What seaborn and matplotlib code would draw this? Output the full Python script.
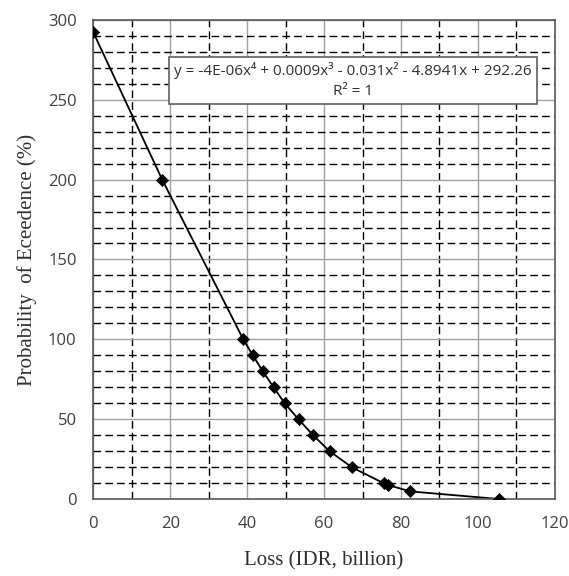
import numpy as np
import pandas as pd
import matplotlib
matplotlib.use("Agg")
import matplotlib.pyplot as plt
import seaborn as sns
from matplotlib.ticker import MultipleLocator

# =============================
# DATA
# =============================
loss = [0.0, 17.9, 39.0, 41.5, 44.1, 46.9, 49.8, 53.4, 57.2, 61.5, 67.3, 75.6, 76.6, 82.4, 105.6]
prob = [292, 200, 100, 90, 80, 70, 60, 50, 40, 30, 20, 10, 9, 5, 0.2]

eq_text = "y = -4E-06x\u2074 + 0.0009x\u00b3 - 0.031x\u00b2 - 4.8941x + 292.26\nR\u00b2 = 1"

df = pd.DataFrame({"loss": loss, "prob": prob})

# =============================
# PLOT
# =============================
sns.set_style("white")
fig = plt.figure(figsize=(5.69, 5.76), dpi=100)
ax = fig.add_axes([0.164, 0.133, 0.811, 0.833])

sns.lineplot(data=df, x="loss", y="prob", color="black", linewidth=1.3, ax=ax,
             estimator=None, sort=False)
sns.scatterplot(data=df, x="loss", y="prob", marker="D", s=38, color="black",
                edgecolor="black", ax=ax, zorder=5)

ax.set_xlim(0, 120)
ax.set_ylim(0, 300)
ax.xaxis.set_major_locator(MultipleLocator(20))
ax.yaxis.set_major_locator(MultipleLocator(50))
ax.xaxis.set_minor_locator(MultipleLocator(10))
ax.yaxis.set_minor_locator(MultipleLocator(10))

ax.grid(which="major", color="#a0a0a0", linestyle="-", linewidth=1.0)
ax.grid(which="minor", color="black", linestyle=(0, (5.5, 3)), linewidth=1.0)
ax.set_axisbelow(True)
ax.tick_params(which="both", length=0)
ax.tick_params(axis="x", labelsize=12, labelcolor="#404040", pad=12)
ax.tick_params(axis="y", labelsize=12, labelcolor="#404040", pad=12)
for lab in ax.get_xticklabels() + ax.get_yticklabels():
    lab.set_family("Open Sans")

for s in ax.spines.values():
    s.set_color("#595959")
    s.set_linewidth(1.2)

ax.set_xlabel("Loss (IDR, billion)", family="Liberation Serif", fontsize=15,
              color="#303030", labelpad=14)
ax.set_ylabel("Probability  of Eceedence (%)", family="Liberation Serif", fontsize=15,
              color="#303030", labelpad=8)

ax.text(0.5625, 0.8725, eq_text, transform=ax.transAxes, ha="center", va="center",
        fontsize=11, family="Open Sans", color="#303030", linespacing=1.45,
        bbox=dict(boxstyle="square,pad=0.33", facecolor="white", edgecolor="#606060",
                  linewidth=1.2), zorder=6)

fig.savefig("out.png", dpi=100)
plt.close(fig)
